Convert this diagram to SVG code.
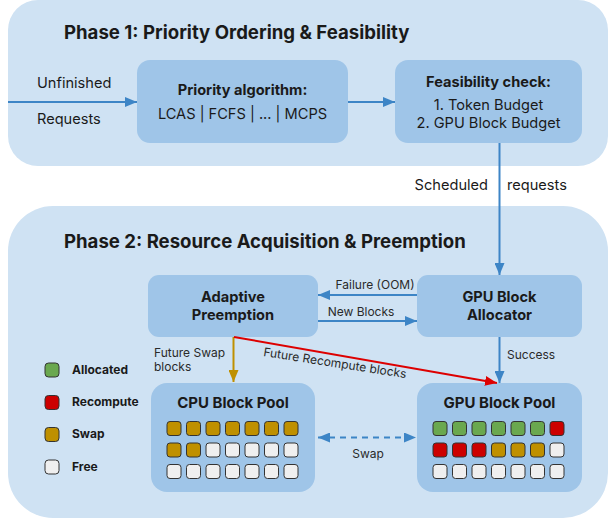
<svg xmlns="http://www.w3.org/2000/svg" width="610" height="520" viewBox="0 0 610 520">
<style>
.panel{fill:#cfe2f3}
.box{fill:#9fc5e8}
.t{font-family:Inter,"Noto Sans","Liberation Sans",sans-serif;fill:#1a1a1a}
.title{font-size:18.6px;font-weight:700}
.bt{font-size:14.6px;font-weight:700}
.nt{font-size:14.6px;font-weight:400}
.st{font-size:12px;font-weight:400;fill:#2a2a2a}
.lg{font-size:12px;font-weight:700}
.pt{font-size:15px;font-weight:700}
.blue{stroke:#3d85c6;stroke-width:2;fill:none}
.cell{stroke:#333;stroke-width:1}
.g{fill:#6aa84f}.r{fill:#cc0000}.y{fill:#bf9000}.f{fill:#efefef}
</style>
<defs>
<marker id="ab" markerUnits="userSpaceOnUse" markerWidth="12" markerHeight="10" refX="12" refY="5" orient="auto-start-reverse"><path d="M0,0 L12,5 L0,10 z" fill="#3d85c6"/></marker>
<marker id="ar" markerUnits="userSpaceOnUse" markerWidth="12" markerHeight="10" refX="12" refY="5" orient="auto"><path d="M0,0 L12,5 L0,10 z" fill="#dd0000"/></marker>
<marker id="ay" markerUnits="userSpaceOnUse" markerWidth="12" markerHeight="10" refX="12" refY="5" orient="auto"><path d="M0,0 L12,5 L0,10 z" fill="#bf9000"/></marker>
</defs>

<g id="phase1">
<rect class="panel" x="8" y="0" width="600" height="166" rx="30"/>
<text class="t title" x="64" y="39">Phase 1: Priority Ordering &amp; Feasibility</text>
</g>
<g id="phase2">
<rect class="panel" x="8" y="206" width="600" height="312" rx="45"/>
<text class="t title" x="64" y="248">Phase 2: Resource Acquisition &amp; Preemption</text>
</g>

<g id="priority">
<rect class="box" x="137" y="60" width="211" height="83" rx="13"/>
<text class="t bt" x="242.5" y="95" text-anchor="middle">Priority algorithm:</text>
<text class="t nt" x="242.5" y="119" text-anchor="middle">LCAS | FCFS | ... | MCPS</text>
</g>
<g id="feasibility">
<rect class="box" x="395" y="60" width="187" height="83" rx="13"/>
<text class="t bt" x="488.5" y="87" text-anchor="middle">Feasibility check:</text>
<text class="t nt" x="488.5" y="110" text-anchor="middle">1. Token Budget</text>
<text class="t nt" x="488.5" y="128" text-anchor="middle">2. GPU Block Budget</text>
</g>
<g id="adaptive">
<rect class="box" x="148" y="275" width="170" height="62" rx="11"/>
<text class="t bt" x="233" y="302" text-anchor="middle">Adaptive</text>
<text class="t bt" x="233" y="320" text-anchor="middle">Preemption</text>
</g>
<g id="allocator">
<rect class="box" x="417" y="275" width="165" height="62" rx="11"/>
<text class="t bt" x="499.5" y="302" text-anchor="middle">GPU Block</text>
<text class="t bt" x="499.5" y="320" text-anchor="middle">Allocator</text>
</g>

<g id="cpupool">
<rect class="box" x="151" y="383" width="164" height="109" rx="16"/>
<text class="t pt" x="233" y="408" text-anchor="middle">CPU Block Pool</text>
<g class="cell">
<rect class="y" x="167" y="421.5" width="14" height="14" rx="3"/>
<rect class="y" x="186.5" y="421.5" width="14" height="14" rx="3"/>
<rect class="y" x="206" y="421.5" width="14" height="14" rx="3"/>
<rect class="y" x="225.5" y="421.5" width="14" height="14" rx="3"/>
<rect class="y" x="245" y="421.5" width="14" height="14" rx="3"/>
<rect class="y" x="264.5" y="421.5" width="14" height="14" rx="3"/>
<rect class="y" x="284" y="421.5" width="14" height="14" rx="3"/>
<rect class="y" x="167" y="443" width="14" height="14" rx="3"/>
<rect class="y" x="186.5" y="443" width="14" height="14" rx="3"/>
<rect class="f" x="206" y="443" width="14" height="14" rx="3"/>
<rect class="f" x="225.5" y="443" width="14" height="14" rx="3"/>
<rect class="f" x="245" y="443" width="14" height="14" rx="3"/>
<rect class="f" x="264.5" y="443" width="14" height="14" rx="3"/>
<rect class="f" x="284" y="443" width="14" height="14" rx="3"/>
<rect class="f" x="167" y="464.5" width="14" height="14" rx="3"/>
<rect class="f" x="186.5" y="464.5" width="14" height="14" rx="3"/>
<rect class="f" x="206" y="464.5" width="14" height="14" rx="3"/>
<rect class="f" x="225.5" y="464.5" width="14" height="14" rx="3"/>
<rect class="f" x="245" y="464.5" width="14" height="14" rx="3"/>
<rect class="f" x="264.5" y="464.5" width="14" height="14" rx="3"/>
<rect class="f" x="284" y="464.5" width="14" height="14" rx="3"/>
</g>
</g>
<g id="gpupool">
<rect class="box" x="417" y="383" width="165" height="109" rx="16"/>
<text class="t pt" x="499.5" y="408" text-anchor="middle">GPU Block Pool</text>
<g class="cell">
<rect class="g" x="433" y="421.5" width="14" height="14" rx="3"/>
<rect class="g" x="452.5" y="421.5" width="14" height="14" rx="3"/>
<rect class="g" x="472" y="421.5" width="14" height="14" rx="3"/>
<rect class="g" x="491.5" y="421.5" width="14" height="14" rx="3"/>
<rect class="g" x="511" y="421.5" width="14" height="14" rx="3"/>
<rect class="g" x="530.5" y="421.5" width="14" height="14" rx="3"/>
<rect class="r" x="550" y="421.5" width="14" height="14" rx="3"/>
<rect class="r" x="433" y="443" width="14" height="14" rx="3"/>
<rect class="r" x="452.5" y="443" width="14" height="14" rx="3"/>
<rect class="r" x="472" y="443" width="14" height="14" rx="3"/>
<rect class="y" x="491.5" y="443" width="14" height="14" rx="3"/>
<rect class="y" x="511" y="443" width="14" height="14" rx="3"/>
<rect class="y" x="530.5" y="443" width="14" height="14" rx="3"/>
<rect class="f" x="550" y="443" width="14" height="14" rx="3"/>
<rect class="f" x="433" y="464.5" width="14" height="14" rx="3"/>
<rect class="f" x="452.5" y="464.5" width="14" height="14" rx="3"/>
<rect class="f" x="472" y="464.5" width="14" height="14" rx="3"/>
<rect class="f" x="491.5" y="464.5" width="14" height="14" rx="3"/>
<rect class="f" x="511" y="464.5" width="14" height="14" rx="3"/>
<rect class="f" x="530.5" y="464.5" width="14" height="14" rx="3"/>
<rect class="f" x="550" y="464.5" width="14" height="14" rx="3"/>
</g>
</g>

<g id="legend">
<g class="cell">
<rect class="g" x="45" y="363" width="14" height="14" rx="3.5"/>
<rect class="r" x="45" y="395.5" width="14" height="14" rx="3.5"/>
<rect class="y" x="45" y="427.5" width="14" height="14" rx="3.5"/>
<rect class="f" x="45" y="460" width="14" height="14" rx="3.5"/>
</g>
<text class="t lg" x="72" y="374">Allocated</text>
<text class="t lg" x="72" y="406">Recompute</text>
<text class="t lg" x="72" y="438">Swap</text>
<text class="t lg" x="72" y="470.5">Free</text>
</g>

<g id="connectors">
<line class="blue" x1="8" y1="102" x2="137" y2="102" marker-end="url(#ab)"/>
<text class="t nt" x="37" y="88">Unfinished</text>
<text class="t nt" x="37" y="124">Requests</text>
<line class="blue" x1="348" y1="102" x2="395" y2="102" marker-end="url(#ab)"/>
<line class="blue" x1="499.5" y1="143" x2="499.5" y2="275" marker-end="url(#ab)"/>
<text class="t nt" x="488" y="190" text-anchor="end">Scheduled</text>
<text class="t nt" x="507" y="190">requests</text>
<line class="blue" x1="417" y1="295" x2="318" y2="295" marker-end="url(#ab)"/>
<text class="t st" x="375" y="289" text-anchor="middle">Failure (OOM)</text>
<line class="blue" x1="318" y1="321" x2="417" y2="321" marker-end="url(#ab)"/>
<text class="t st" x="361" y="316" text-anchor="middle">New Blocks</text>
<line class="blue" x1="499.5" y1="337" x2="499.5" y2="383" marker-end="url(#ab)"/>
<text class="t st" x="507" y="359">Success</text>
<line x1="233.5" y1="337" x2="233.5" y2="382" stroke="#bf9000" stroke-width="2" marker-end="url(#ay)"/>
<text class="t st" x="154" y="357">Future Swap</text>
<text class="t st" x="154" y="371">blocks</text>
<line x1="234" y1="337" x2="497" y2="383" stroke="#dd0000" stroke-width="2" marker-end="url(#ar)"/>
<text class="t st" x="263" y="356" transform="rotate(8.8 263 356)">Future Recompute blocks</text>
<line class="blue" x1="318" y1="437.5" x2="416" y2="437.5" stroke-dasharray="6 5" marker-start="url(#ab)" marker-end="url(#ab)"/>
<text class="t st" x="368" y="458" text-anchor="middle">Swap</text>
</g>
</svg>
